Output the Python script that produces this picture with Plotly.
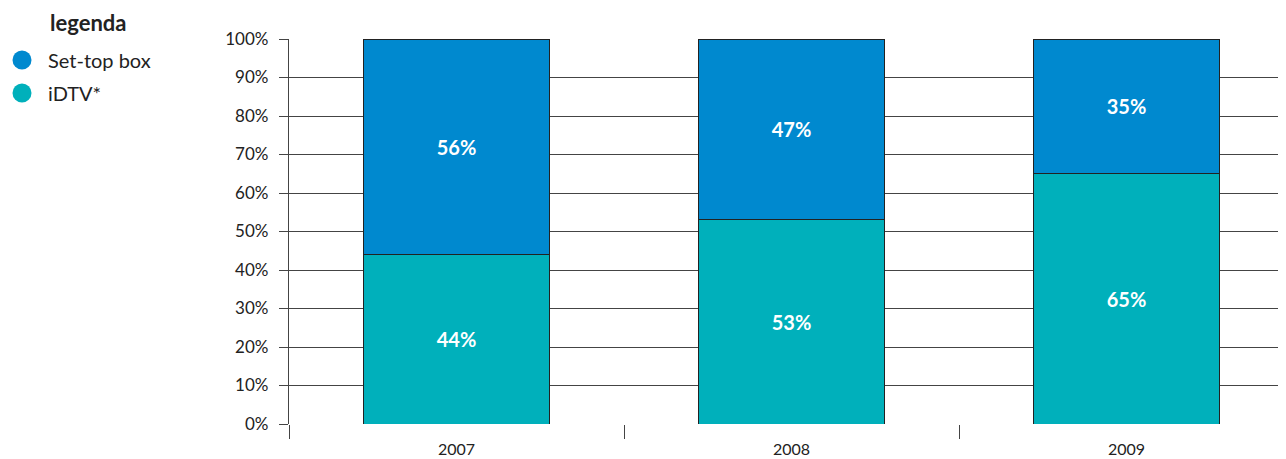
import plotly.graph_objects as go

years = ["2007", "2008", "2009"]
idtv = [44, 53, 65]
settop = [56, 47, 35]
y_ticks = list(range(0, 101, 10))
y_tick_text = [f"{v}%" for v in y_ticks]

legend_names = ["Set-top box", "iDTV*"]

font_family = "Lato, 'Open Sans', sans-serif"
blue = "#0089cf"
teal = "#00b0bb"
legend_colors = [blue, teal]

# plot area in figure pixels (page has 8px body margin)
W, H = 1286, 459
L, R, T, B = 281, 8, 31, 43
pw = W - L - R
ph = H - T - B


def px_x(x):
    return (x - L) / pw


def px_y(y):
    return (H - B - y) / ph


fig = go.Figure()
fig.add_trace(
    go.Bar(
        x=years,
        y=idtv,
        name="iDTV*",
        marker=dict(color=teal, line=dict(color="#222222", width=1)),
        text=[f"{v}%" for v in idtv],
        textposition="inside",
        insidetextanchor="middle",
        textfont=dict(color="white", size=20, family=font_family, weight="bold"),
        width=0.555,
    )
)
fig.add_trace(
    go.Bar(
        x=years,
        y=settop,
        name="Set-top box",
        marker=dict(color=blue, line=dict(color="#222222", width=1)),
        text=[f"{v}%" for v in settop],
        textposition="inside",
        insidetextanchor="middle",
        textfont=dict(color="white", size=20, family=font_family, weight="bold"),
        width=0.555,
    )
)

# hand-made legend: circles + labels
shapes = []
annotations = [
    dict(
        text="<b>legenda</b>",
        xref="paper",
        yref="paper",
        x=px_x(40),
        y=px_y(14),
        xanchor="left",
        yanchor="middle",
        showarrow=False,
        font=dict(size=22, color="#222222", family=font_family),
    )
]
for i, (name, color) in enumerate(zip(legend_names, legend_colors)):
    cy = 52 + 33 * i
    shapes.append(
        dict(
            type="circle",
            xref="paper",
            yref="paper",
            x0=px_x(4.5),
            x1=px_x(23.5),
            y0=px_y(cy + 9.5),
            y1=px_y(cy - 9.5),
            fillcolor=color,
            line=dict(width=0),
        )
    )
    annotations.append(
        dict(
            text=name,
            xref="paper",
            yref="paper",
            x=px_x(38),
            y=px_y(cy),
            xanchor="left",
            yanchor="middle",
            showarrow=False,
            font=dict(size=20, color="#222222", family=font_family),
        )
    )

fig.update_layout(
    barmode="stack",
    width=W,
    height=H,
    margin=dict(l=L, r=R, t=T, b=B, autoexpand=False),
    paper_bgcolor="white",
    plot_bgcolor="white",
    showlegend=False,
    font=dict(family=font_family, size=16, color="#222222"),
    shapes=shapes,
    annotations=annotations,
)

fig.update_xaxes(
    range=[-0.5, 2.476],
    tickson="boundaries",
    ticks="outside",
    ticklen=14,
    tickcolor="#444444",
    tickwidth=1.3,
    ticklabelstandoff=14,
    showline=False,
    showgrid=False,
    automargin=False,
    tickfont=dict(size=16, color="#222222"),
)
fig.update_yaxes(
    range=[0, 100],
    tickvals=y_ticks,
    ticktext=y_tick_text,
    ticks="outside",
    ticklen=9,
    tickcolor="#444444",
    tickwidth=1.3,
    ticklabelstandoff=7,
    showline=True,
    linecolor="#444444",
    linewidth=1.3,
    showgrid=True,
    gridcolor="#444444",
    gridwidth=1.3,
    zeroline=False,
    automargin=False,
    tickfont=dict(size=17, color="#222222"),
)

fig.write_html("out.html")
